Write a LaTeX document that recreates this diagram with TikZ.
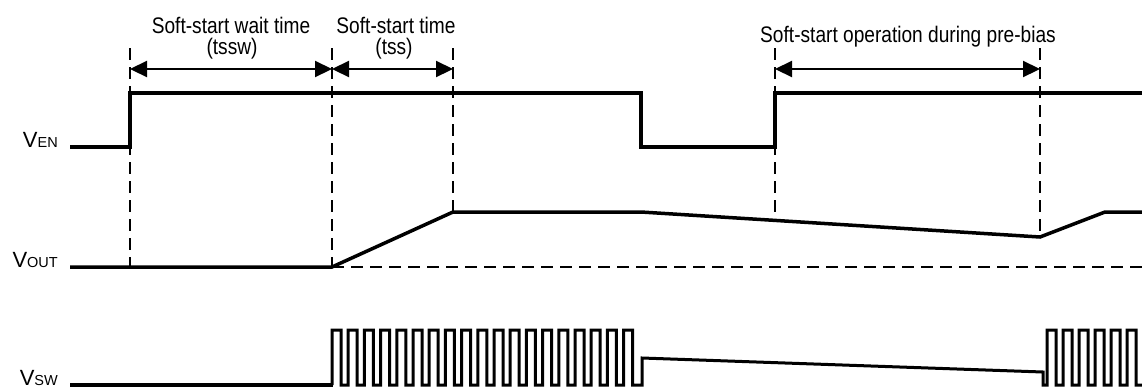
\documentclass[tikz,border=0pt]{standalone}
\usepackage{fontspec}
\setmainfont{Liberation Sans}
\newfontfamily\headfont[FakeStretch=0.85]{Liberation Sans}
\usetikzlibrary{arrows.meta}
\begin{document}
\begin{tikzpicture}[x=1bp,y=-1bp,
  wave/.style={line width=3.5bp, line join=miter},
  pulse/.style={line width=3bp, line join=miter},
  guide/.style={line width=1.7bp, dash pattern=on 12bp off 7bp},
  span/.style={line width=2.2bp, {Triangle[length=17bp,width=16bp]}-{Triangle[length=17bp,width=16bp]}},
  heading/.style={inner sep=0pt, anchor=base, font=\headfont\fontsize{22.5bp}{23bp}\selectfont},
  siglabel/.style={inner sep=0pt, anchor=base east, font=\fontsize{22bp}{23bp}\selectfont}]
\useasboundingbox (0,0) rectangle (1142,388);
\newcommand{\subcaps}[1]{{\fontsize{14.5bp}{15bp}\selectfont #1}}
% signal labels
\node[siglabel] (lven) at (58,147) {V\subcaps{EN}};
\node[siglabel] (lvout) at (58,267) {V\subcaps{OUT}};
\node[siglabel] (lvsw) at (58,385) {V\subcaps{SW}};
% headings
\node[heading] (h1) at (231,33) {Soft-start wait time};
\node[heading] (h1b) at (232,54) {(tssw)};
\node[heading] (h2) at (396,33) {Soft-start time};
\node[heading] (h2b) at (394,54) {(tss)};
\node[heading] (h3) at (908,42) {Soft-start operation during pre-bias};
% guide coordinates
\coordinate (t0top) at (130,48); \coordinate (t0bot) at (130,267);
\coordinate (t1top) at (332,48); \coordinate (t1bot) at (332,267);
\coordinate (t2top) at (453,48); \coordinate (t2bot) at (453,212);
\coordinate (t3top) at (775,48); \coordinate (t3bot) at (775,220.4);
\coordinate (t4top) at (1040,48); \coordinate (t4bot) at (1040,237);
\coordinate (refend) at (1142,267);
% dashed guides
\draw[guide] (t0top) -- (t0bot);
\draw[guide] (t1top) -- (t1bot);
\draw[guide] (t2top) -- (t2bot);
\draw[guide] (t3top) -- (t3bot);
\draw[guide] (t4top) -- (t4bot);
\draw[guide] (t1bot) -- (refend);
% span arrows
\coordinate (a0) at (130,69); \coordinate (a1) at (332,69); \coordinate (a2) at (453,69);
\coordinate (a3) at (775,69); \coordinate (a4) at (1040,69);
\draw[span] (a0) -- (a1);
\draw[span] (a1) -- (a2);
\draw[span] (a3) -- (a4);
% VEN
\draw[wave] (70,147) -- (130,147) -- (130,93) -- (641,93) -- (641,147) -- (775,147) -- (775,93) -- (1143,93);
% VOUT
\draw[wave] (70,267) -- (t1bot) -- (t2bot) -- (641,212) -- (t4bot) -- (1105,212) -- (1143,212);
% VSW
\draw[wave] (70,385) -- (333,385);
\draw[pulse] (332,385)
  \foreach \k in {0,...,18} { -- ++(0,-55) -- ++(9,0) -- ++(0,55) -- ++(7.2,0) }
  -- (642,385) -- (642,358) -- (1043,372) -- (1043,385) -- (1047,385)
  \foreach \k in {0,...,5} { -- ++(0,-55) -- ++(9,0) -- ++(0,55) -- ++(7,0) };
\end{tikzpicture}
\end{document}
